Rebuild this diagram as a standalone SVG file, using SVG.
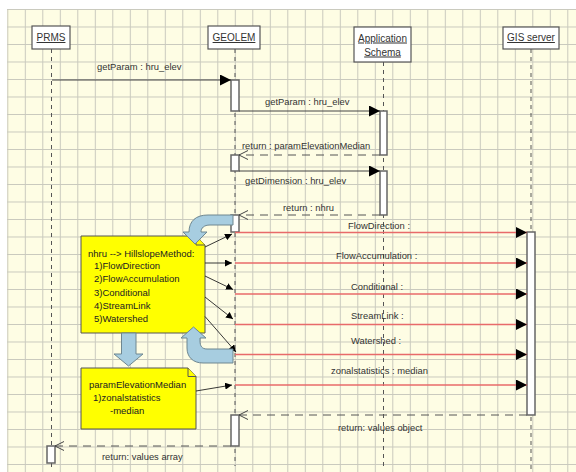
<svg xmlns="http://www.w3.org/2000/svg" width="576" height="472" viewBox="0 0 576 472">
<style>
text{font-family:"Liberation Sans",Arial,sans-serif;fill:#333}
.hd{font-size:10px;text-anchor:middle;text-decoration:underline}
.lb{font-size:9.4px}
.nt{font-size:9.5px;fill:#222}
.hbox{fill:#fff;stroke:#555;stroke-width:1.2}
.life{stroke:#555;stroke-width:1;stroke-dasharray:4,4;fill:none}
.act{fill:#fff;stroke:#666;stroke-width:1.5}
.msg{stroke:#444;stroke-width:1;fill:none;marker-end:url(#fill)}
.ret{stroke:#555;stroke-width:1;fill:none;stroke-dasharray:8,6;marker-end:url(#open)}
.red{stroke:#e86a6a;stroke-width:1.3;fill:none;marker-end:url(#fill)}
.lnk{stroke:#222;stroke-width:0.9;fill:none;marker-end:url(#small)}
.note{fill:#ffff00;stroke:#555;stroke-width:1}
.blue{fill:#a7cde0;stroke:#6f8790;stroke-width:1}
</style>
<defs>
<pattern id="grid" x="7.3" y="9" width="17.5" height="17.5" patternUnits="userSpaceOnUse">
<path d="M0,0.5 H17.5 M0.5,0 V17.5" stroke="#c9c9bd" stroke-width="1" fill="none"/>
</pattern>
<marker id="fill" markerWidth="12" markerHeight="11" refX="11" refY="5.5" orient="auto" markerUnits="userSpaceOnUse"><path d="M0,0 L11,5.5 L0,11 Z" fill="#000"/></marker>
<marker id="open" markerWidth="11" markerHeight="11" refX="10" refY="5" orient="auto" markerUnits="userSpaceOnUse"><path d="M1,0.5 L10,5 L1,9.5" fill="none" stroke="#444" stroke-width="1"/></marker>
<marker id="small" markerWidth="8" markerHeight="7" refX="7" refY="3.5" orient="auto" markerUnits="userSpaceOnUse"><path d="M0,0 L7,3.5 L0,7 Z" fill="#000"/></marker>
</defs>
<rect x="0" y="0" width="576" height="472" fill="#fff"/>
<rect x="7" y="9" width="569" height="463" fill="#fefde4"/>
<rect x="7" y="9" width="569" height="463" fill="url(#grid)"/>

<g id="PRMS">
<line class="life" x1="51.5" y1="49" x2="51.5" y2="446"/>
<line class="life" x1="51.5" y1="463" x2="51.5" y2="470"/>
<rect class="hbox" x="32" y="26" width="38" height="23"/>
<text class="hd" x="51" y="41">PRMS</text>
<rect class="act" x="47" y="446" width="8" height="17"/>
</g>
<g id="GEOLEM">
<line class="life" x1="235" y1="49" x2="235" y2="466"/>
<rect class="hbox" x="208" y="26" width="52" height="23"/>
<text class="hd" x="234" y="41">GEOLEM</text>
<rect class="act" x="231" y="80" width="8" height="31"/>
<rect class="act" x="231" y="155" width="8" height="16"/>
<rect class="act" x="231" y="215" width="8" height="17"/>
<rect class="act" x="231" y="415" width="8" height="31"/>
</g>
<g id="AppSchema">
<line class="life" x1="383.5" y1="62" x2="383.5" y2="466"/>
<rect class="hbox" x="354" y="27" width="57" height="35"/>
<text class="hd" x="382.5" y="41.5">Application</text>
<text class="hd" x="382.5" y="55.5">Schema</text>
<rect class="act" x="380" y="111" width="7" height="44"/>
<rect class="act" x="380" y="171" width="7" height="44"/>
</g>
<g id="GISserver">
<line class="life" x1="531" y1="49" x2="531" y2="470"/>
<rect class="hbox" x="503" y="27" width="56" height="22"/>
<text class="hd" x="531" y="41">GIS server</text>
<rect class="act" x="527" y="232" width="8" height="183"/>
</g>

<g id="note1">
<path class="note" d="M81,236 L196,236 L205,245 L205,333 L81,333 Z"/>
<path class="note" d="M196,236 L196,245 L205,245"/>
<text class="nt" x="88" y="257">nhru --&gt; HillslopeMethod:</text>
<text class="nt" x="94" y="269">1)FlowDirection</text>
<text class="nt" x="94" y="282">2)FlowAccumulation</text>
<text class="nt" x="94" y="295.5">3)Conditional</text>
<text class="nt" x="94" y="309">4)StreamLink</text>
<text class="nt" x="94" y="322">5)Watershed</text>
</g>
<g id="note2">
<path class="note" d="M81,368 L188,368 L196,376.5 L196,429 L81,429 Z"/>
<path class="note" d="M188,368 L188,376.5 L196,376.5"/>
<text class="nt" x="89" y="387.5">paramElevationMedian</text>
<text class="nt" x="93" y="400.5">1)zonalstatistics</text>
<text class="nt" x="110" y="413.5">-median</text>
</g>

<g id="connectors">
<line class="msg" x1="52" y1="80" x2="231" y2="80"/>
<text class="lb" x="97" y="70">getParam : hru_elev</text>
<line class="msg" x1="239" y1="111" x2="380" y2="111"/>
<text class="lb" x="265" y="105">getParam : hru_elev</text>
<line class="ret" x1="380" y1="155" x2="239" y2="155"/>
<text class="lb" x="242" y="148.5">return : paramElevationMedian</text>
<line class="msg" x1="239" y1="171" x2="380" y2="171"/>
<text class="lb" x="245" y="183.5">getDimension : hru_elev</text>
<line class="ret" x1="380" y1="215" x2="239" y2="215"/>
<text class="lb" x="283" y="211">return : nhru</text>

<line class="red" x1="235" y1="232.5" x2="527" y2="232.5"/>
<text class="lb" x="348" y="229">FlowDirection :</text>
<line class="red" x1="235" y1="263" x2="527" y2="263"/>
<text class="lb" x="336" y="259">FlowAccumulation :</text>
<line class="red" x1="235" y1="294" x2="527" y2="294"/>
<text class="lb" x="351" y="290">Conditional :</text>
<line class="red" x1="235" y1="324.5" x2="527" y2="324.5"/>
<text class="lb" x="351" y="318.5">StreamLink :</text>
<line class="red" x1="235" y1="354.5" x2="527" y2="354.5"/>
<text class="lb" x="351" y="343.5">Watershed :</text>
<line class="red" x1="235" y1="385" x2="527" y2="385"/>
<text class="lb" x="331" y="374">zonalstatistics : median</text>

<line class="ret" x1="527" y1="415" x2="239" y2="415"/>
<text class="lb" x="338" y="430.5">return: values object</text>
<line class="ret" x1="231" y1="446" x2="55" y2="446"/>
<text class="lb" x="102" y="460">return: values array</text>

<line class="lnk" x1="205" y1="247" x2="232" y2="234"/>
<line class="lnk" x1="205" y1="263" x2="232" y2="263"/>
<line class="lnk" x1="205" y1="276" x2="233" y2="289.5"/>
<line class="lnk" x1="205" y1="297" x2="233" y2="319"/>
<line class="lnk" x1="205" y1="316.5" x2="236" y2="352"/>
<line class="lnk" x1="196" y1="391" x2="232" y2="385"/>

<path class="blue" d="M233,215 L208,215 C196,215 189,221 189,232 L183,232 L195,244 L207,232 L201,232 C201,228 204,225 210,225 L233,225 Z"/>
<path class="blue" d="M233,349 L207,349 C202,349 200,346 200,341 L200,338 L206,338 L193.5,327 L181,338 L187,338 L187,348 C187,357 193,363 203,363 L233,363 Z"/>
<path class="blue" d="M121.5,333 L136,333 L136,354 L143,354 L128.5,366 L114,354 L121.5,354 Z"/>
</g>
</svg>
